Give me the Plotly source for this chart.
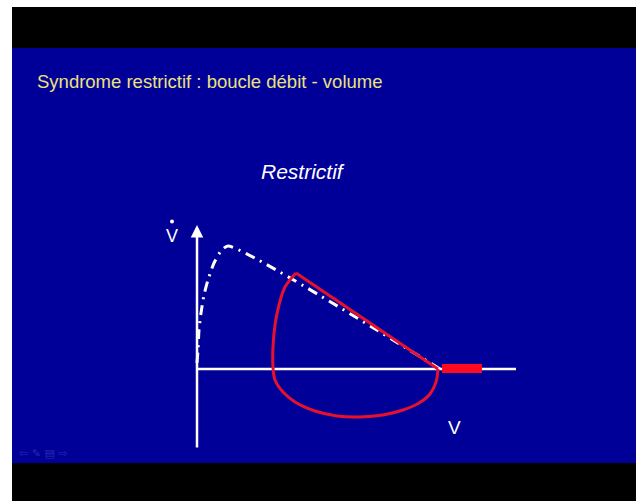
import plotly.graph_objects as go

W, H = 642, 501

# Normal flow-volume curve (expiration), arbitrary units: volume V, flow V-dot
normal_v = [0.0, 0.1, 0.2, 0.4, 0.7, 1.1, 1.7, 2.4, 3.1, 24.3]
normal_f = [0.6, 1.9, 3.9, 5.6, 7.4, 8.9, 10.6, 11.8, 12.3, 0.0]

# Restrictive loop: expiratory limb (straight, from peak flow to end volume)
restr_exp_v = [9.9, 24.1]
restr_exp_f = [9.6, 0.0]

# Restrictive loop: inspiratory limb back up to the peak
restr_insp_v = [24.1, 23.9, 23.3, 22.2, 20.6, 18.6, 16.3, 14.0, 11.8,
                9.8, 8.6, 7.8, 7.6, 7.6, 7.8, 8.2, 8.8, 9.9]
restr_insp_f = [0.0, -1.3, -2.5, -3.4, -4.1, -4.6, -4.8, -4.7, -4.2,
                -3.3, -2.3, -1.1, 0.2, 2.2, 4.4, 6.4, 8.2, 9.6]

# Thick bar on the volume axis (reduced volume range)
bar_v = [24.5, 28.5]
bar_f = [0.05, 0.05]

# Axes of the diagram
vaxis_v = [0.0, 0.0]
vaxis_f = [-8.0, 14.4]
haxis_v = [0.0, 31.9]
haxis_f = [0.0, 0.0]

# dot of the V-dot (flow) symbol
flow_dot_v = [-2.5]
flow_dot_f = [14.75]

title_text = "Syndrome restrictif : boucle débit - volume"
subtitle_text = "Restrictif"

# volume units -> 10 px, origin at pixel (197, 369)
X0, Y0, S = 197.0, 369.0, 10.0
x_range = [(0 - X0) / S, (W - X0) / S]
y_range = [(Y0 - H) / S, Y0 / S]


def px(x):
    return x / W


def py(y):
    return 1 - y / H


fig = go.Figure()

# horizontal axis
fig.add_trace(go.Scatter(x=haxis_v, y=haxis_f, mode="lines",
                         line=dict(color="white", width=2.5), hoverinfo="skip"))

# normal curve, dash-dot
fig.add_trace(go.Scatter(x=normal_v, y=normal_f, mode="lines",
                         line=dict(color="white", width=3, dash="10px,6px,2px,6px",
                                   shape="spline", smoothing=0.6),
                         hoverinfo="skip"))

# restrictive loop
fig.add_trace(go.Scatter(x=restr_exp_v, y=restr_exp_f, mode="lines",
                         line=dict(color="#e8112d", width=3), hoverinfo="skip"))
fig.add_trace(go.Scatter(x=restr_insp_v, y=restr_insp_f, mode="lines",
                         line=dict(color="#e8112d", width=3, shape="spline",
                                   smoothing=1.0),
                         hoverinfo="skip"))

# thick red bar
fig.add_trace(go.Scatter(x=bar_v, y=bar_f, mode="lines",
                         line=dict(color="#ff0a1e", width=9), hoverinfo="skip"))

# dot above the V of the flow label
fig.add_trace(go.Scatter(x=flow_dot_v, y=flow_dot_f, mode="markers",
                         marker=dict(color="white", size=4), hoverinfo="skip"))

shapes = [
    # black frame
    dict(type="rect", xref="paper", yref="paper", x0=px(12), x1=px(636),
         y0=py(501), y1=py(7), fillcolor="black", line_width=0, layer="below"),
    # blue slide
    dict(type="rect", xref="paper", yref="paper", x0=px(12), x1=px(636),
         y0=py(463), y1=py(48), fillcolor="#000099", line_width=0, layer="below"),
]

annotations = [
    dict(text=title_text, xref="paper", yref="paper", x=px(35), y=py(81),
         xanchor="left", yanchor="middle", showarrow=False,
         font=dict(family="Arial, Liberation Sans", size=18.5, color="#ece27a")),
    dict(text="<i>" + subtitle_text + "</i>", xref="paper", yref="paper",
         x=px(303), y=py(172), xanchor="center", yanchor="middle", showarrow=False,
         font=dict(family="Arial, Liberation Sans", size=21, color="white")),
    # vertical axis with arrow head
    dict(x=vaxis_v[1], y=vaxis_f[1], ax=vaxis_v[0], ay=vaxis_f[0],
         xref="x", yref="y", axref="x", ayref="y", text="", showarrow=True,
         arrowhead=2, arrowsize=1.0, arrowwidth=2.5, arrowcolor="white"),
    # V of the flow label
    dict(text="V", xref="paper", yref="paper", x=px(172), y=py(236),
         xanchor="center", yanchor="middle", showarrow=False,
         font=dict(family="Arial, Liberation Sans", size=18, color="white")),
    # V label of the volume axis
    dict(text="V", xref="paper", yref="paper", x=px(454), y=py(427),
         xanchor="center", yanchor="middle", showarrow=False,
         font=dict(family="Arial, Liberation Sans", size=19, color="white")),
    # faint slide navigation icons
    dict(text="⇦ ✎ ▤ ⇨", xref="paper", yref="paper", x=px(17), y=py(453),
         xanchor="left", yanchor="middle", showarrow=False,
         font=dict(family="DejaVu Sans", size=11, color="#2a2aa8")),
]

fig.update_layout(
    width=W, height=H,
    margin=dict(l=0, r=0, t=0, b=0),
    paper_bgcolor="white", plot_bgcolor="rgba(0,0,0,0)",
    showlegend=False,
    xaxis=dict(range=x_range, visible=False, fixedrange=True),
    yaxis=dict(range=y_range, visible=False, fixedrange=True),
    shapes=shapes, annotations=annotations,
)

fig.write_html("out.html")
